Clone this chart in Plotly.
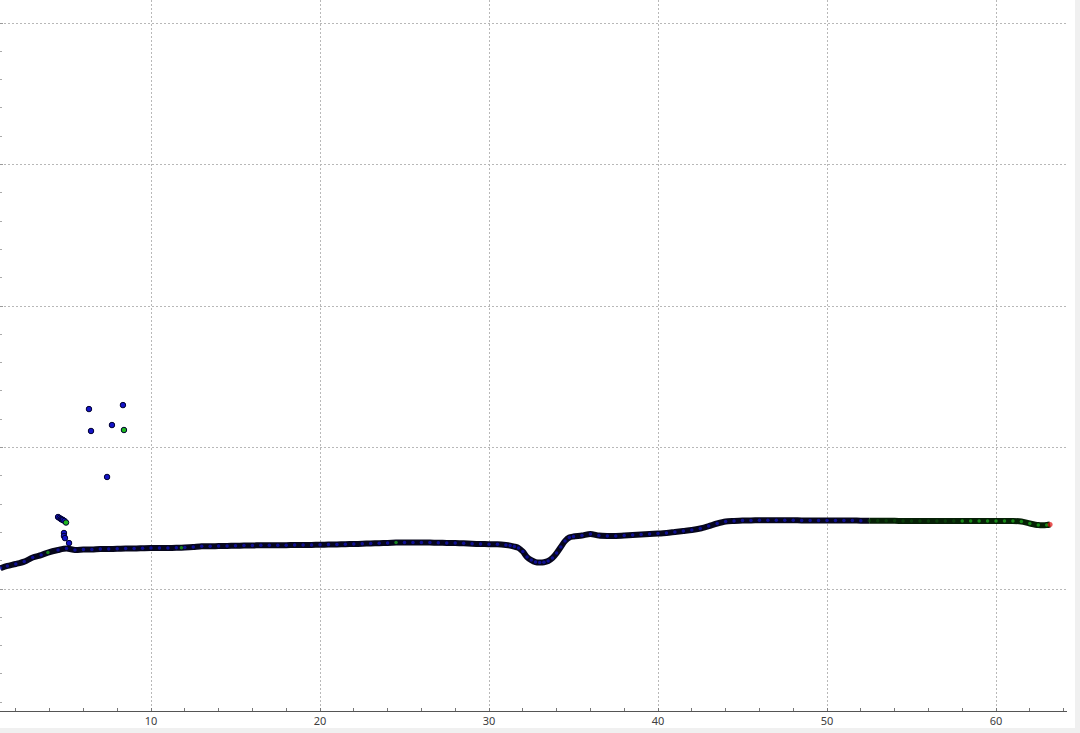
import plotly.graph_objects as go

# ---------------- data ----------------
track_x = [1.1, 1.5, 2.0, 2.5, 3.0, 3.5, 3.9, 4.5, 5.0, 5.5, 6.0, 6.5, 7.0, 7.5, 8.0, 8.5, 9.0, 9.5,
           10.0, 10.5, 11.0, 11.5, 11.8, 12.0, 12.5, 13.0, 13.5, 14.0, 14.5, 15.0, 15.5, 16.0, 16.5,
           17.0, 17.5, 18.0, 18.5, 19.0, 19.5, 20.0, 20.5, 21.0, 21.5, 22.0, 22.5, 23.0, 23.5, 24.0,
           24.5, 25.0, 25.5, 26.0, 26.5, 27.0, 27.5, 28.0, 28.5, 29.0, 29.5, 30.0, 30.5, 31.0, 31.25,
           31.5, 31.75, 32.0, 32.25, 32.5, 32.75, 33.0, 33.25, 33.5, 33.75, 34.0, 34.25, 34.5, 34.75,
           35.0, 35.5, 36.0, 36.5, 37.0, 37.5, 38.0, 38.5, 39.0, 39.5, 40.0, 40.5, 41.0, 41.5, 42.0,
           42.5, 43.0, 43.5, 44.0, 44.5, 45.0, 45.5, 46.0, 46.5, 47.0, 47.5, 48.0, 48.5, 49.0, 49.5,
           50.0, 50.5, 51.0, 51.5, 52.0, 52.5, 53.0, 53.5, 54.0, 54.5, 55.0, 55.5, 56.0, 56.5, 57.0,
           57.5, 58.0, 58.5, 59.0, 59.5, 60.0, 60.5, 61.0, 61.5, 62.0, 62.5, 63.0, 63.2]
track_y = [0.148, 0.163, 0.177, 0.194, 0.223, 0.240, 0.258, 0.276, 0.286, 0.276, 0.279, 0.279, 0.283,
           0.283, 0.284, 0.286, 0.286, 0.288, 0.290, 0.290, 0.290, 0.291, 0.292, 0.293, 0.297, 0.302,
           0.302, 0.304, 0.305, 0.306, 0.307, 0.308, 0.309, 0.309, 0.310, 0.310, 0.311, 0.311, 0.312,
           0.313, 0.314, 0.315, 0.317, 0.318, 0.320, 0.322, 0.324, 0.326, 0.328, 0.329, 0.329, 0.329,
           0.328, 0.327, 0.326, 0.325, 0.323, 0.320, 0.318, 0.317, 0.316, 0.311, 0.307, 0.300, 0.290,
           0.265, 0.226, 0.205, 0.191, 0.187, 0.189, 0.198, 0.219, 0.254, 0.297, 0.339, 0.364, 0.371,
           0.378, 0.389, 0.378, 0.375, 0.375, 0.378, 0.382, 0.385, 0.389, 0.392, 0.396, 0.403, 0.410,
           0.417, 0.428, 0.445, 0.463, 0.477, 0.481, 0.484, 0.485, 0.486, 0.486, 0.486, 0.486, 0.486,
           0.485, 0.485, 0.485, 0.485, 0.484, 0.484, 0.484, 0.483, 0.483, 0.482, 0.482, 0.482, 0.481,
           0.481, 0.481, 0.481, 0.481, 0.481, 0.481, 0.481, 0.481, 0.481, 0.481, 0.481, 0.481, 0.481,
           0.477, 0.463, 0.452, 0.452, 0.456, 0.459]
# fix status per point: B = blue, D = dark green, G = green, R = red
track_status = (["B"] * 6 + ["G"] + ["B"] * 15 + ["G"] + ["B"] * 25 + ["G"] + ["B"] * 63
                + ["D"] * 11 + ["G"] * 11 + ["R"])

spike_x = [4.50, 4.59, 4.67, 4.73, 4.79, 4.88, 4.97, 4.85, 4.85, 4.91, 5.15]
spike_y = [0.509, 0.502, 0.495, 0.491, 0.488, 0.481, 0.470, 0.396, 0.375, 0.360, 0.325]
spike_status = ["B", "B", "B", "B", "B", "B", "G", "B", "B", "B", "B"]

outlier_x = [6.33, 6.45, 7.69, 7.40, 8.34, 8.40]
outlier_y = [1.272, 1.117, 1.159, 0.792, 1.300, 1.124]
outlier_status = ["B", "B", "B", "B", "B", "G"]

x_ticks = [10, 20, 30, 40, 50, 60]
x_tick_labels = ["10", "20", "30", "40", "50", "60"]

# ---------------- styling ----------------
fill_colors = {"B": "#1414c8", "D": "#0c4a0c", "G": "#1fb81f", "R": "#e01010"}
band_colors = {"B": "#06061c", "D": "#062006"}

fig = go.Figure()

split = next(i for i, s in enumerate(track_status) if s == "D")
fig.add_trace(go.Scatter(x=track_x[:split + 1], y=track_y[:split + 1], mode="lines",
                         line=dict(color=band_colors["B"], width=6, shape="spline",
                                   smoothing=0.8),
                         hoverinfo="skip", showlegend=False))
fig.add_trace(go.Scatter(x=track_x[split:], y=track_y[split:], mode="lines",
                         line=dict(color=band_colors["D"], width=6, shape="spline",
                                   smoothing=0.8),
                         hoverinfo="skip", showlegend=False))

fig.add_trace(go.Scatter(x=track_x, y=track_y, mode="markers",
                         marker=dict(size=[5 if s == "R" else 3.5 for s in track_status],
                                     color=[fill_colors[s] for s in track_status],
                                     line=dict(width=0)),
                         showlegend=False))

for xs, ys, st in ((spike_x, spike_y, spike_status), (outlier_x, outlier_y, outlier_status)):
    fig.add_trace(go.Scatter(x=xs, y=ys, mode="markers",
                             marker=dict(size=5.5, color=[fill_colors[s] for s in st],
                                         line=dict(width=1, color="#000030")),
                             showlegend=False))

W, H = 1080, 733
L, R, T, B = 0, 13, 0, 22
pw, ph = W - L - R, H - T - B

fig.update_layout(
    width=W, height=H,
    margin=dict(l=L, r=R, t=T, b=B, pad=0),
    paper_bgcolor="white", plot_bgcolor="white",
    font=dict(family="Noto Sans, DejaVu Sans, sans-serif", size=11, color="#404040"),
    xaxis=dict(range=[1.065, 64.2], tickvals=x_ticks, ticktext=x_tick_labels,
               showgrid=True, gridcolor="#b8b8b8", griddash="2px,2px", gridwidth=1,
               zeroline=False, showline=True, linecolor="#555555", linewidth=1,
               ticks="inside", ticklen=3, tickcolor="#777777",
               minor=dict(dtick=2, tick0=0, ticks="inside", ticklen=3, tickcolor="#777777",
                          showgrid=False),
               tickfont=dict(size=11, color="#404040"), fixedrange=True, automargin=False),
    yaxis=dict(range=[-0.862, 4.163], dtick=1, tick0=0,
               showgrid=True, gridcolor="#b8b8b8", griddash="2px,2px", gridwidth=1,
               zeroline=False, showline=False, showticklabels=False,
               ticks="inside", ticklen=3, tickcolor="#999999",
               minor=dict(dtick=0.2, tick0=0, ticks="inside", ticklen=2, tickcolor="#aaaaaa",
                          showgrid=False),
               fixedrange=True, automargin=False),
    shapes=[
        dict(type="rect", xref="paper", yref="paper", x0=-0.01, x1=1.03,
             y0=-(H - ph) / ph - 0.02, y1=-(728 - ph) / ph,
             fillcolor="#f0f0f0", line=dict(width=0), layer="below"),
        dict(type="rect", xref="paper", yref="paper", x0=1075 / pw, x1=1.03,
             y0=-0.06, y1=1.05, fillcolor="#f0f0f0", line=dict(width=0), layer="below"),
    ],
)

fig.write_html("out.html", config={"displayModeBar": False},
               post_script="document.body.style.margin='0';document.body.style.overflow='hidden';")
